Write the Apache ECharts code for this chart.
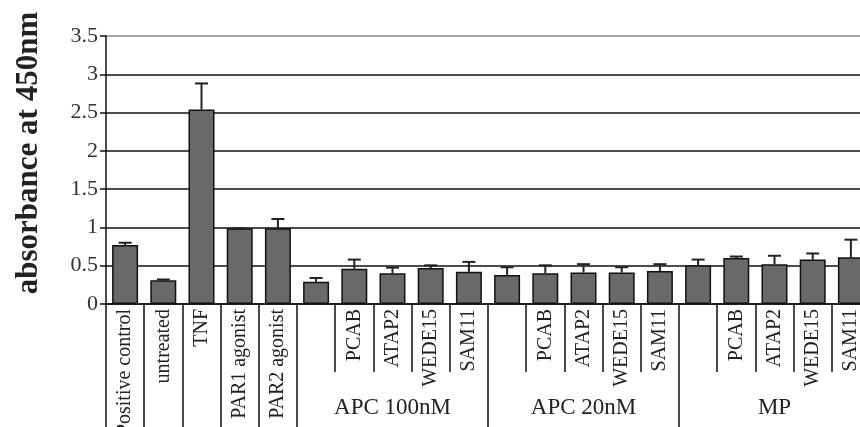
<!DOCTYPE html>
<html>
<head>
<meta charset="utf-8">
<script src="https://cdn.jsdelivr.net/npm/echarts@6/dist/echarts.min.js"></script>
<style>
html,body{margin:0;padding:0;background:#fff;}
#chart{width:860px;height:427px;}
</style>
</head>
<body>
<div id="chart"></div>
<script>
const categories = ["Positive control","untreated","TNF","PAR1 agonist","PAR2 agonist",
  "","PCAB","ATAP2","WEDE15","SAM11",
  "","PCAB","ATAP2","WEDE15","SAM11",
  "","PCAB","ATAP2","WEDE15","SAM11"];
const groupLabels = ["","","","","","","","APC 100nM","","","","","APC 20nM","","","","","MP","",""];
const longTickIndices = [0,1,2,3,4,5,10,15];
const values = [0.77,0.31,2.54,0.99,0.99, 0.29,0.46,0.40,0.47,0.42, 0.38,0.40,0.41,0.41,0.43, 0.505,0.60,0.52,0.58,0.61];
const errorTops = [0.80,0.32,2.88,0.99,1.11, 0.34,0.58,0.475,0.505,0.55, 0.48,0.505,0.52,0.48,0.52, 0.58,0.62,0.63,0.66,0.84];
const yTicks = {min:0, max:3.5, interval:0.5};

const chart = echarts.init(document.getElementById('chart'), null, {renderer:'canvas'});
const serif = '"Liberation Serif","Times New Roman",serif';
const errData = values.map((v,i)=>[i, v, errorTops[i]]);

chart.setOption({
  animation:false,
  backgroundColor:'#fff',
  grid:{left:106, right:-10, top:36, bottom:123, containLabel:false, outerBoundsMode:'none'},
  xAxis:[{
    type:'category',
    data:categories,
    position:'bottom',
    axisLine:{show:true, lineStyle:{color:'#111', width:1.5}},
    axisTick:{show:true, interval:0, length:68, lineStyle:{color:'#111', width:1.5}},
    axisLabel:{interval:0, rotate:90, margin:5, fontFamily:serif, fontSize:20, color:'#222', hideOverlap:false},
    splitLine:{show:false}
  },{
    type:'category',
    data:groupLabels,
    position:'bottom',
    axisLine:{show:false},
    axisTick:{show:true, interval:function(idx){return longTickIndices.indexOf(idx)>=0;}, length:130, lineStyle:{color:'#111', width:1.5}},
    axisLabel:{interval:0, margin:92, fontFamily:serif, fontSize:23, color:'#222', hideOverlap:false},
    splitLine:{show:false}
  }],
  yAxis:{
    type:'value',
    min:yTicks.min, max:yTicks.max, interval:yTicks.interval,
    name:'absorbance at 450nm',
    nameLocation:'middle',
    nameRotate:90,
    nameGap:62,
    nameTextStyle:{fontFamily:serif, fontSize:31, fontWeight:'bold', color:'#222', padding:[0,0,0,34]},
    axisLine:{show:true, lineStyle:{color:'#111', width:1.5}},
    axisTick:{show:true, length:6, lineStyle:{color:'#111', width:1.5}},
    axisLabel:{fontFamily:serif, fontSize:22, color:'#333', margin:8, formatter:function(v){return String(v);}},
    splitLine:{show:true, lineStyle:{color:['#111','#111','#111','#111','#111','#111','#111','#8a8a8a'], width:1.5}}
  },
  series:[{
    type:'bar',
    data:values,
    xAxisIndex:0,
    barCategoryGap:'32%',
    itemStyle:{color:'#696969', borderColor:'#111', borderWidth:1.5},
    z:2
  },{
    type:'custom',
    xAxisIndex:0,
    data:errData,
    encode:{x:0, y:[1,2]},
    z:3,
    renderItem:function(params, api){
      const x = api.value(0);
      const lo = api.coord([x, api.value(1)]);
      const hi = api.coord([x, api.value(2)]);
      const cap = 6.5;
      return {type:'group', children:[
        {type:'line', shape:{x1:lo[0], y1:lo[1], x2:hi[0], y2:hi[1]}, style:{stroke:'#222', lineWidth:2}},
        {type:'line', shape:{x1:hi[0]-cap, y1:hi[1], x2:hi[0]+cap, y2:hi[1]}, style:{stroke:'#222', lineWidth:2}}
      ]};
    }
  }]
});
</script>
</body>
</html>
